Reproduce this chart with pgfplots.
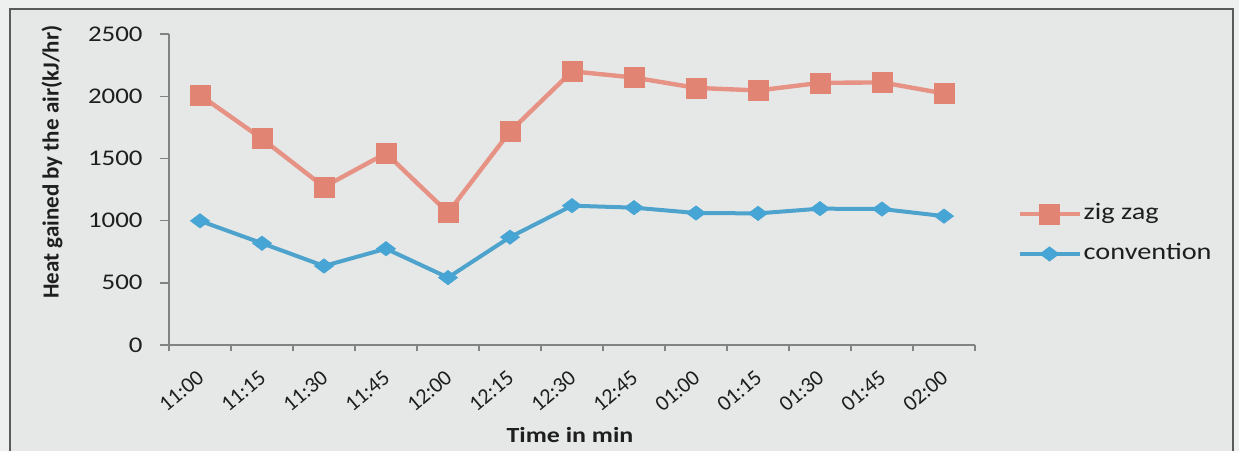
\documentclass[border=0pt]{standalone}
\usepackage{pgfplots}
\pgfplotsset{compat=1.18}
\usepackage{fontspec}
\setmainfont{Carlito}
\newfontfamily\wide{Carlito}[FakeStretch=1.2]
\definecolor{bgc}{RGB}{230,232,232}
\definecolor{outc}{RGB}{238,240,240}
\definecolor{framec}{RGB}{90,90,90}
\definecolor{axisc}{RGB}{130,130,130}
\definecolor{zz}{RGB}{226,132,116}
\definecolor{zzl}{RGB}{230,146,132}
\definecolor{cv}{RGB}{70,165,212}
\definecolor{cvl}{RGB}{78,163,205}
\definecolor{txt}{RGB}{30,30,30}
\pgfplotsset{
  mylegimg/.style={legend image code/.code={\draw[mark repeat=2, mark phase=2, #1] plot coordinates {(0pt,0pt) (15pt,0pt) (30pt,0pt)};}}
}
\begin{document}
\begin{tikzpicture}
\useasboundingbox (0,0) rectangle (619.5pt,225.5pt);
\fill[outc] (0,0) rectangle (619.5pt,225.5pt);
\fill[bgc] (5pt,0) rectangle (616.5pt,221pt);
\draw[framec, line width=0.7pt] (5pt,0) -- (5pt,221pt) -- (616.5pt,221pt) -- (616.5pt,0);
\begin{axis}[
  at={(84.5pt,53pt)}, anchor=south west,
  scale only axis, width=403pt, height=155.5pt,
  xmin=-0.5, xmax=12.5, ymin=0, ymax=2500,
  axis lines=left, axis line style={-, color=axisc, line width=0.7pt},
  clip=false,
  tick align=outside,
  xtick={0,...,12},
  xticklabels={11:00,11:15,11:30,11:45,12:00,12:15,12:30,12:45,01:00,01:15,01:30,01:45,02:00},
  major x tick style={draw=none},
  minor xtick={-0.5,0.5,...,12.5},
  minor tick length=3pt,
  minor x tick style={color=axisc, line width=0.7pt},
  ytick={0,500,1000,1500,2000,2500},
  yticklabels={0,500,1000,1500,2000,2500},
  major tick length=4.5pt,
  major y tick style={color=axisc, line width=0.7pt},
  yticklabel style={font=\wide\fontsize{11.2}{13}\selectfont, text=txt, anchor=east, inner sep=0pt, xshift=-8.5pt},
  xticklabel style={font=\fontsize{11}{12}\selectfont, text=txt, inner sep=0pt, rotate=40, anchor=north east, xshift=-6.3pt, yshift=-4.5pt},
  xlabel={Time in min},
  xlabel style={font=\wide\bfseries\fontsize{10.8}{13}\selectfont, text=txt, at={(axis description cs:0.4975,-0.289)}, anchor=center},
  ylabel={Heat gained by the air(kJ/hr)},
  ylabel style={font=\bfseries\fontsize{11.5}{13}\selectfont, text=txt, at={(axis description cs:-0.1452,0.588)}, anchor=center, rotate=0},
  legend style={at={(axis description cs:1.052,0.357)}, anchor=west, draw=none, fill=none, inner sep=0pt,
    font=\wide\fontsize{11.8}{13}\selectfont, text=txt, row sep=8pt,
    nodes={inner sep=1pt, text height=8pt, text depth=2pt}},
  legend cell align=left,
  mylegimg,
]
\addplot[color=zzl, line width=2.2pt, mark=square*, mark size=5pt, mark options={fill=zz, draw=zz, line width=0.3pt}]
  coordinates {(0,2009) (1,1658) (2,1271) (3,1541) (4,1064) (5,1716) (6,2200) (7,2150) (8,2067) (9,2046) (10,2107) (11,2111) (12,2022)};
\addlegendentry{zig zag}
\addplot[color=cvl, line width=2pt, mark=diamond*, mark size=4.8pt, mark options={rotate=90, fill=cv, draw=cv, line width=0.3pt}]
  coordinates {(0,998) (1,818) (2,635) (3,774) (4,542) (5,867) (6,1120) (7,1104) (8,1061) (9,1058) (10,1096) (11,1093) (12,1036)};
\addlegendentry{convention}
\end{axis}
\end{tikzpicture}
\end{document}
